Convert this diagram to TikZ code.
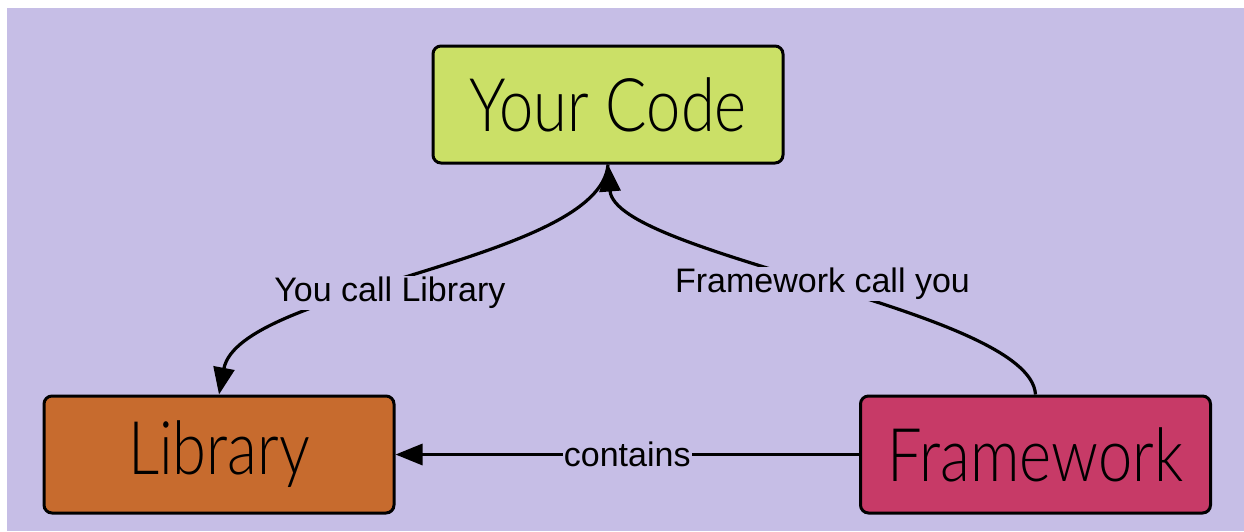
\documentclass[tikz,border=0pt]{standalone}
\usepackage{fontspec}
\setmainfont{Liberation Sans}
\newfontfamily\boxfont[FakeStretch=0.83]{Lato Light}
\usepackage{tikz}
\usetikzlibrary{positioning,arrows.meta}
\definecolor{bgcol}{HTML}{C6BEE6}
\definecolor{codecol}{HTML}{CBE067}
\definecolor{libcol}{HTML}{C76B2E}
\definecolor{fwcol}{HTML}{C73A67}

\begin{document}
\begin{tikzpicture}[x=1pt,y=-1pt]
 \tikzset{box/.style={draw=black,line width=3pt,rounded corners=8pt,minimum width=350pt,minimum height=117pt,font=\boxfont\fontsize{74}{80}\selectfont},
          arrow/.style={line width=3.2pt,-{Triangle[length=27pt,width=21pt]}},
          lbl/.style={fill=bgcol,inner sep=1pt,font=\fontsize{34}{38}\selectfont}}
 \useasboundingbox (0,0) rectangle (1244,531);
 \fill[white] (0,0) rectangle (1244,531);
 \fill[bgcol] (7,8) rectangle (1244,531);

 \node[box,fill=codecol] (code) at (608,104.5) {Your Code};
 \node[box,fill=libcol] (lib) at (219,454.5) {Library};
 \node[box,fill=fwcol] (fw) at (1035.5,454.5) {Framework};

 \draw[arrow] (code.south) .. controls +(-8,97) and +(20,-106) .. node[lbl,pos=0.55,yshift=-7pt] {You call Library} (lib.north);
 \draw[arrow] (fw.north) .. controls +(-5,-85) and +(7,91) .. node[lbl,yshift=-2pt] {Framework call you} (code.south);
 \draw[arrow] (fw) to node[lbl] {contains} (lib);
\end{tikzpicture}
\end{document}
